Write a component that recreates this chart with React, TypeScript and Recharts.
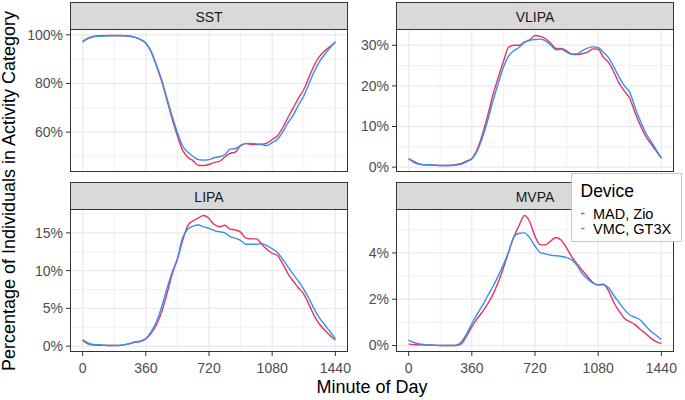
import React from 'react';
import { LineChart, Line, XAxis, YAxis, CartesianGrid } from 'recharts';

// ---------- data ----------
const minutes = [0, 30, 60, 90, 120, 150, 180, 210, 240, 270, 300, 330, 360, 390, 420, 450, 480, 510, 540, 570, 600, 630, 660, 690, 720, 750, 780, 810, 840, 870, 900, 930, 960, 990, 1020, 1050, 1080, 1110, 1140, 1170, 1200, 1230, 1260, 1290, 1320, 1350, 1380, 1410, 1440];
const xTicks = [0, 360, 720, 1080, 1440];
const xMinor = [180, 540, 900, 1260];

const sstMAD = [97.3, 98.6, 99.3, 99.5, 99.6, 99.7, 99.7, 99.7, 99.6, 99.4, 98.9, 98.0, 96.5, 93.0, 87.3, 81.0, 73.3, 65.5, 58.5, 52.5, 49.7, 48.2, 46.3, 46.3, 46.7, 47.6, 48.0, 49.8, 51.3, 51.8, 54.6, 55.3, 55.0, 54.9, 55.0, 55.5, 57.0, 58.5, 61.8, 66.0, 70.0, 74.0, 77.5, 82.6, 87.6, 91.1, 93.4, 95.2, 97.0];
const sstVMC = [97.0, 98.4, 99.2, 99.4, 99.5, 99.6, 99.6, 99.6, 99.6, 99.4, 98.9, 98.0, 96.6, 93.2, 87.7, 81.5, 74.0, 66.5, 59.8, 54.3, 51.7, 50.0, 48.7, 48.5, 48.7, 49.5, 49.9, 50.7, 53.0, 53.3, 54.4, 55.4, 55.4, 55.2, 54.9, 54.5, 55.7, 57.0, 60.0, 63.8, 67.0, 71.2, 74.8, 79.8, 84.9, 89.0, 92.0, 94.6, 97.0];

const vlipaMAD = [2.0, 1.2, 0.7, 0.55, 0.5, 0.45, 0.4, 0.4, 0.45, 0.6, 0.9, 1.5, 2.1, 4.3, 8.0, 12.6, 17.8, 22.0, 26.0, 29.5, 30.0, 30.0, 30.8, 31.3, 32.4, 32.2, 31.6, 30.5, 29.2, 29.2, 28.6, 27.8, 27.7, 27.9, 28.3, 29.1, 29.0, 27.0, 25.7, 23.3, 20.6, 18.7, 16.9, 13.4, 10.3, 7.6, 5.8, 4.0, 2.2];
const vlipaVMC = [2.07, 1.4, 0.8, 0.6, 0.6, 0.5, 0.4, 0.4, 0.4, 0.5, 0.75, 1.3, 2.0, 3.9, 7.2, 11.4, 16.2, 20.5, 24.6, 27.3, 28.7, 29.5, 30.7, 31.2, 31.4, 31.5, 31.1, 30.0, 28.9, 29.0, 28.3, 27.8, 27.9, 28.7, 29.3, 29.6, 29.4, 28.3, 26.9, 24.6, 22.1, 20.0, 18.4, 14.7, 11.4, 8.5, 6.4, 4.3, 2.2];

const lipaMAD = [0.75, 0.3, 0.15, 0.12, 0.1, 0.08, 0.08, 0.1, 0.2, 0.35, 0.5, 0.6, 0.95, 1.7, 2.8, 4.5, 6.9, 9.5, 11.5, 14.0, 16.0, 16.6, 17.0, 17.3, 16.9, 16.1, 15.8, 16.0, 15.5, 15.4, 15.1, 14.3, 14.2, 14.2, 13.5, 12.8, 12.3, 12.0, 10.9, 9.6, 8.6, 7.7, 6.9, 5.5, 4.0, 2.9, 2.1, 1.4, 0.8];
const lipaVMC = [0.88, 0.44, 0.22, 0.18, 0.13, 0.09, 0.09, 0.09, 0.18, 0.35, 0.57, 0.7, 1.0, 1.9, 3.2, 5.2, 7.6, 9.8, 11.6, 14.4, 15.5, 15.9, 16.05, 15.8, 15.6, 15.3, 15.15, 15.0, 14.5, 14.3, 14.0, 13.5, 13.5, 13.5, 13.6, 13.3, 12.9, 12.4, 11.5, 10.5, 9.5, 8.6, 7.5, 6.3, 4.9, 3.7, 2.8, 1.9, 1.0];

const mvpaMAD = [0.06, 0.04, 0.03, 0.02, 0.02, 0.01, 0.0, 0.0, 0.0, 0.0, 0.08, 0.4, 0.82, 1.15, 1.45, 1.8, 2.2, 2.72, 3.35, 4.05, 4.7, 5.2, 5.62, 5.35, 4.72, 4.36, 4.35, 4.52, 4.67, 4.55, 4.22, 3.83, 3.53, 3.24, 2.97, 2.72, 2.62, 2.65, 2.35, 1.85, 1.48, 1.17, 1.03, 0.9, 0.7, 0.52, 0.32, 0.17, 0.09];
const mvpaVMC = [0.23, 0.13, 0.07, 0.04, 0.02, 0.01, 0.0, 0.0, 0.0, 0.01, 0.15, 0.5, 0.95, 1.35, 1.72, 2.15, 2.55, 3.0, 3.5, 4.05, 4.7, 4.85, 4.87, 4.65, 4.3, 4.02, 3.96, 3.9, 3.88, 3.85, 3.8, 3.7, 3.45, 3.1, 2.88, 2.7, 2.62, 2.62, 2.5, 2.15, 1.85, 1.55, 1.32, 1.22, 1.1, 0.85, 0.62, 0.44, 0.26];

const sstTicks = [60, 80, 100];
const sstMinor = [50, 70, 90];
const vlipaTicks = [0, 10, 20, 30];
const vlipaMinor = [5, 15, 25];
const lipaTicks = [0, 5, 10, 15];
const lipaMinor = [2.5, 7.5, 12.5, 17.5];
const mvpaTicks = [0, 2, 4];
const mvpaMinor = [1, 3, 5];

const panelTitles = ['SST', 'VLIPA', 'LIPA', 'MVPA'];
const seriesNames = ['MAD, Zio', 'VMC, GT3X'];

// ---------- styles ----------
const RED = '#E6335F';
const BLUE = '#3990E8';
const FONT = '"Liberation Sans", Arial, Helvetica, sans-serif';
const Y_W = 60;
const X_H = 40;
const R_PAD = 24;
const V_PAD = 12;
const PW = 278;
const PH = 143;
const COLS = [70, 396];
const ROWS = [29, 209];
const STRIP_H = 27;

type PanelProps = {
  mad: number[];
  vmc: number[];
  yTicks: number[];
  yMinor: number[];
  left: number;
  top: number;
  showX: boolean;
};

function Panel({ mad, vmc, yTicks, yMinor, left, top, showX }: PanelProps) {
  const data = minutes.map((m, i) => ({ m, mad: mad[i], vmc: vmc[i] }));
  const all = [...mad, ...vmc];
  const lo = Math.min(...all);
  const hi = Math.max(...all);
  const pad = (hi - lo) * 0.05;
  const bottomPad = showX ? 0 : V_PAD;
  return (
    <div style={{ position: 'absolute', left: left - Y_W, top: top - V_PAD }}>
      <LineChart
        width={Y_W + PW + R_PAD}
        height={V_PAD + PH + (showX ? X_H : 0) + bottomPad}
        data={data}
        margin={{ top: V_PAD, right: R_PAD, bottom: bottomPad, left: 0 }}
      >
        <CartesianGrid horizontalValues={yMinor} verticalValues={xMinor} stroke="#EBEBEB" strokeWidth={0.7} />
        <CartesianGrid horizontalValues={yTicks} verticalValues={xTicks} stroke="#EBEBEB" strokeWidth={1.3} />
        <XAxis
          dataKey="m"
          type="number"
          domain={[-72, 1512]}
          allowDataOverflow
          ticks={xTicks}
          interval={0}
          hide={!showX}
          height={X_H}
          axisLine={false}
          tickSize={4}
          tickMargin={7}
          tickLine={{ stroke: '#333333' }}
          tick={{ fill: '#4D4D4D', fontSize: 14 }}
        />
        <YAxis
          type="number"
          domain={[lo - pad, hi + pad]}
          allowDataOverflow
          ticks={yTicks}
          interval={0}
          width={Y_W}
          axisLine={false}
          tickSize={4}
          tickMargin={3}
          tickLine={{ stroke: '#333333' }}
          tick={{ fill: '#4D4D4D', fontSize: 14 }}
          tickFormatter={(v: number) => `${v}%`}
        />
        <Line dataKey="mad" type="monotone" stroke={RED} strokeWidth={1.4} dot={false} isAnimationActive={false} />
        <Line dataKey="vmc" type="monotone" stroke={BLUE} strokeWidth={1.4} dot={false} isAnimationActive={false} />
      </LineChart>
    </div>
  );
}

export default function App() {
  const panels = [
    { mad: sstMAD, vmc: sstVMC, yTicks: sstTicks, yMinor: sstMinor },
    { mad: vlipaMAD, vmc: vlipaVMC, yTicks: vlipaTicks, yMinor: vlipaMinor },
    { mad: lipaMAD, vmc: lipaVMC, yTicks: lipaTicks, yMinor: lipaMinor },
    { mad: mvpaMAD, vmc: mvpaVMC, yTicks: mvpaTicks, yMinor: mvpaMinor },
  ];
  return (
    <div style={{ position: 'absolute', left: 0, top: 0, width: 685, height: 400, background: '#fff', fontFamily: FONT, overflow: 'hidden' }}>
      {panels.map((p, i) => (
        <Panel
          key={i}
          {...p}
          left={COLS[i % 2]}
          top={ROWS[Math.floor(i / 2)]}
          showX={i >= 2}
        />
      ))}
      <svg width={685} height={400} style={{ position: 'absolute', left: 0, top: 0, pointerEvents: 'none', fontFamily: FONT }}>
        {panelTitles.map((t, i) => {
          const L = COLS[i % 2];
          const T = ROWS[Math.floor(i / 2)];
          return (
            <g key={t}>
              <rect x={L + 0.5} y={T + 0.5} width={PW - 1} height={PH - 1} fill="none" stroke="#333333" strokeWidth={1} />
              <rect x={L + 0.5} y={T - STRIP_H + 0.5} width={PW - 1} height={STRIP_H} fill="#D9D9D9" stroke="#333333" strokeWidth={1} />
              <text x={L + PW / 2} y={T - 7.5} textAnchor="middle" fontSize={14} fill="#1A1A1A">{t}</text>
            </g>
          );
        })}
        <text x={372} y={393} textAnchor="middle" fontSize={18} fill="#000">Minute of Day</text>
        <text transform="translate(14.5,191) rotate(-90)" textAnchor="middle" fontSize={18} fill="#000">Percentage of Individuals in Activity Category</text>
        <rect x={571.5} y={173.5} width={110} height={68} fill="#fff" stroke="#C8C8C8" strokeWidth={1} />
        <text x={580.5} y={196.5} fontSize={17.5} fill="#000">Device</text>
        <line x1={581} x2={584.5} y1={213.5} y2={213.5} stroke={RED} strokeWidth={1.4} />
        <line x1={581} x2={584.5} y1={228.5} y2={228.5} stroke={BLUE} strokeWidth={1.4} />
        <text x={593} y={218.5} fontSize={14.5} fill="#000">{seriesNames[0]}</text>
        <text x={593} y={233.5} fontSize={14.5} fill="#000">{seriesNames[1]}</text>
      </svg>
    </div>
  );
}
